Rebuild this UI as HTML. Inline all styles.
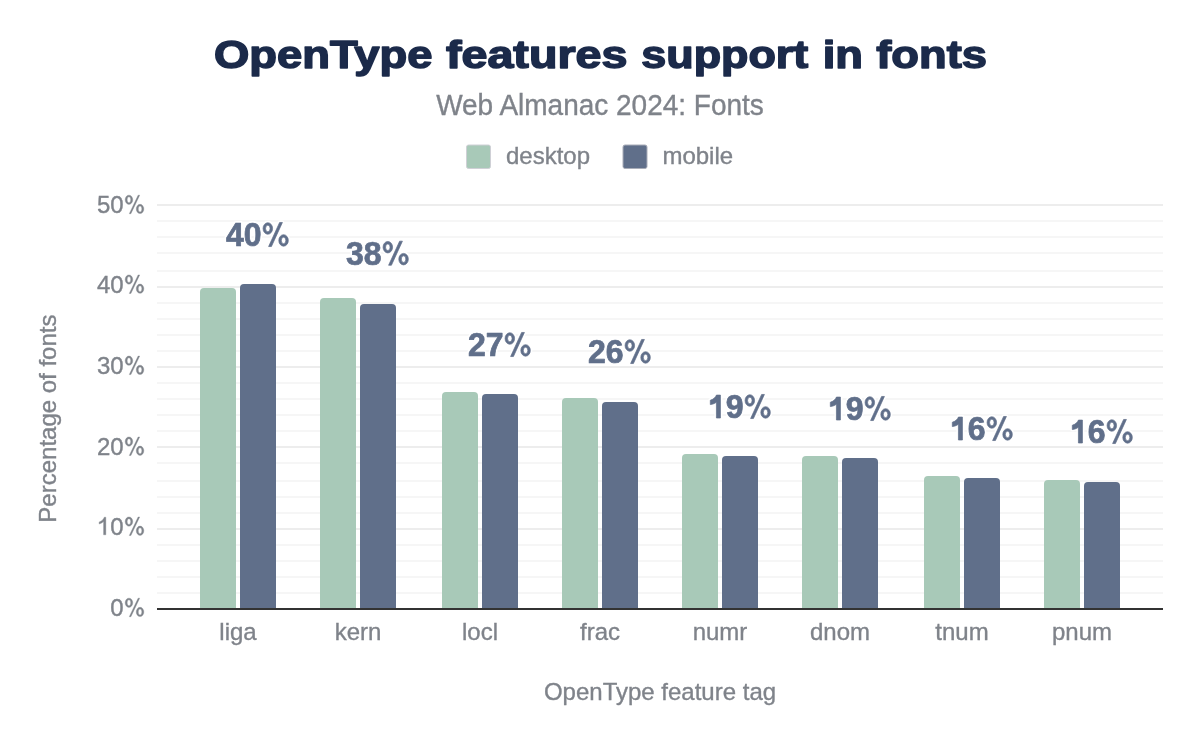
<!DOCTYPE html>
<html><head><meta charset="utf-8"><title>OpenType features support in fonts</title>
<style>
html,body{margin:0;padding:0;background:#fff;}
body{width:1200px;height:742px;overflow:hidden;}
svg{display:block;will-change:transform;font-family:"Liberation Sans",sans-serif;}
</style></head><body>
<svg width="1200" height="742" viewBox="0 0 1200 742">
<rect width="1200" height="742" fill="#fff"/>
<g font-size="39" font-weight="bold" fill="#1b2a4a" stroke="#1b2a4a" stroke-width="1.5" stroke-linejoin="round"><text x="213.92" y="67.8" textLength="218.56" lengthAdjust="spacingAndGlyphs">OpenType</text><text x="445.95" y="67.8" textLength="181.51" lengthAdjust="spacingAndGlyphs">features</text><text x="641.27" y="67.8" textLength="167.03" lengthAdjust="spacingAndGlyphs">support</text><text x="822.79" y="67.8" textLength="40.27" lengthAdjust="spacingAndGlyphs">in</text><text x="876.23" y="67.8" textLength="110.68" lengthAdjust="spacingAndGlyphs">fonts</text></g>
<g fill="#7f838a" stroke="#7f838a" stroke-width="0.35">
<text transform="translate(600,114.8) scale(1,1.03)" text-anchor="middle" font-size="28">Web Almanac 2024: Fonts</text>
<text transform="translate(506,164) scale(1,1.03)" font-size="24">desktop</text>
<text transform="translate(662.4,164) scale(1,1.03)" font-size="24">mobile</text>
<g transform="translate(110.312,616) scale(1,1.03)" font-size="24"><text x="0.000" y="0">0</text><path transform="translate(13.348,0)" fill-rule="evenodd" d="M1.51,-12.83a3.78,4.50 0 1,0 7.56,0a3.78,4.50 0 1,0 -7.56,0ZM3.51,-12.83a1.78,2.85 0 1,0 3.56,0a1.78,2.85 0 1,0 -3.56,0ZM12.61,-3.93a3.78,4.50 0 1,0 7.56,0a3.78,4.50 0 1,0 -7.56,0ZM14.61,-3.93a1.78,2.85 0 1,0 3.56,0a1.78,2.85 0 1,0 -3.56,0ZM14.44,-17.3H16.04L7.24,0.7H5.64Z"/></g><g transform="translate(96.965,534.8) scale(1,1.03)" font-size="24"><path transform="translate(0.000,0)" d="M6.62,0H8.87V-17.1H7.3C6.6,-15.0 4.6,-13.1 2.2,-12.45V-10.45C4.0,-10.9 5.6,-11.8 6.62,-12.9Z"/><text x="13.348" y="0">0</text><path transform="translate(26.695,0)" fill-rule="evenodd" d="M1.51,-12.83a3.78,4.50 0 1,0 7.56,0a3.78,4.50 0 1,0 -7.56,0ZM3.51,-12.83a1.78,2.85 0 1,0 3.56,0a1.78,2.85 0 1,0 -3.56,0ZM12.61,-3.93a3.78,4.50 0 1,0 7.56,0a3.78,4.50 0 1,0 -7.56,0ZM14.61,-3.93a1.78,2.85 0 1,0 3.56,0a1.78,2.85 0 1,0 -3.56,0ZM14.44,-17.3H16.04L7.24,0.7H5.64Z"/></g><g transform="translate(96.965,454.8) scale(1,1.03)" font-size="24"><text x="0.000" y="0">2</text><text x="13.348" y="0">0</text><path transform="translate(26.695,0)" fill-rule="evenodd" d="M1.51,-12.83a3.78,4.50 0 1,0 7.56,0a3.78,4.50 0 1,0 -7.56,0ZM3.51,-12.83a1.78,2.85 0 1,0 3.56,0a1.78,2.85 0 1,0 -3.56,0ZM12.61,-3.93a3.78,4.50 0 1,0 7.56,0a3.78,4.50 0 1,0 -7.56,0ZM14.61,-3.93a1.78,2.85 0 1,0 3.56,0a1.78,2.85 0 1,0 -3.56,0ZM14.44,-17.3H16.04L7.24,0.7H5.64Z"/></g><g transform="translate(96.965,373.9) scale(1,1.03)" font-size="24"><text x="0.000" y="0">3</text><text x="13.348" y="0">0</text><path transform="translate(26.695,0)" fill-rule="evenodd" d="M1.51,-12.83a3.78,4.50 0 1,0 7.56,0a3.78,4.50 0 1,0 -7.56,0ZM3.51,-12.83a1.78,2.85 0 1,0 3.56,0a1.78,2.85 0 1,0 -3.56,0ZM12.61,-3.93a3.78,4.50 0 1,0 7.56,0a3.78,4.50 0 1,0 -7.56,0ZM14.61,-3.93a1.78,2.85 0 1,0 3.56,0a1.78,2.85 0 1,0 -3.56,0ZM14.44,-17.3H16.04L7.24,0.7H5.64Z"/></g><g transform="translate(96.965,292.75) scale(1,1.03)" font-size="24"><text x="0.000" y="0">4</text><text x="13.348" y="0">0</text><path transform="translate(26.695,0)" fill-rule="evenodd" d="M1.51,-12.83a3.78,4.50 0 1,0 7.56,0a3.78,4.50 0 1,0 -7.56,0ZM3.51,-12.83a1.78,2.85 0 1,0 3.56,0a1.78,2.85 0 1,0 -3.56,0ZM12.61,-3.93a3.78,4.50 0 1,0 7.56,0a3.78,4.50 0 1,0 -7.56,0ZM14.61,-3.93a1.78,2.85 0 1,0 3.56,0a1.78,2.85 0 1,0 -3.56,0ZM14.44,-17.3H16.04L7.24,0.7H5.64Z"/></g><g transform="translate(96.965,213) scale(1,1.03)" font-size="24"><text x="0.000" y="0">5</text><text x="13.348" y="0">0</text><path transform="translate(26.695,0)" fill-rule="evenodd" d="M1.51,-12.83a3.78,4.50 0 1,0 7.56,0a3.78,4.50 0 1,0 -7.56,0ZM3.51,-12.83a1.78,2.85 0 1,0 3.56,0a1.78,2.85 0 1,0 -3.56,0ZM12.61,-3.93a3.78,4.50 0 1,0 7.56,0a3.78,4.50 0 1,0 -7.56,0ZM14.61,-3.93a1.78,2.85 0 1,0 3.56,0a1.78,2.85 0 1,0 -3.56,0ZM14.44,-17.3H16.04L7.24,0.7H5.64Z"/></g>
<text transform="translate(238,640) scale(1,1.03)" text-anchor="middle" font-size="24">liga</text><text transform="translate(358,640) scale(1,1.03)" text-anchor="middle" font-size="24">kern</text><text transform="translate(480,640) scale(1,1.03)" text-anchor="middle" font-size="24">locl</text><text transform="translate(600,640) scale(1,1.03)" text-anchor="middle" font-size="24">frac</text><text transform="translate(720,640) scale(1,1.03)" text-anchor="middle" font-size="24">numr</text><text transform="translate(840,640) scale(1,1.03)" text-anchor="middle" font-size="24">dnom</text><text transform="translate(962,640) scale(1,1.03)" text-anchor="middle" font-size="24">tnum</text><text transform="translate(1082,640) scale(1,1.03)" text-anchor="middle" font-size="24">pnum</text>
<text transform="translate(660,700) scale(1,1.03)" text-anchor="middle" font-size="24">OpenType feature tag</text>
<text transform="translate(56,418.6) rotate(-90) scale(1,1.03)" text-anchor="middle" font-size="24">Percentage of fonts</text>
</g>
<rect x="466.5" y="145" width="24" height="23.5" rx="2" fill="#a8c9b8" stroke="#cfd0d6" stroke-width="1"/>
<rect x="623" y="145" width="24" height="23.5" rx="2" fill="#606f8a" stroke="#a9adb8" stroke-width="1"/>
<g><rect x="157" y="592" width="1006" height="2" fill="#f6f6f6"/><rect x="157" y="576" width="1006" height="2" fill="#f6f6f6"/><rect x="157" y="560" width="1006" height="2" fill="#f6f6f6"/><rect x="157" y="544" width="1006" height="2" fill="#f6f6f6"/><rect x="157" y="528" width="1006" height="2" fill="#ededed"/><rect x="157" y="512" width="1006" height="2" fill="#f6f6f6"/><rect x="157" y="496" width="1006" height="2" fill="#f6f6f6"/><rect x="157" y="480" width="1006" height="2" fill="#f6f6f6"/><rect x="157" y="462" width="1006" height="2" fill="#f6f6f6"/><rect x="157" y="446" width="1006" height="2" fill="#ededed"/><rect x="157" y="430" width="1006" height="2" fill="#f6f6f6"/><rect x="157" y="414" width="1006" height="2" fill="#f6f6f6"/><rect x="157" y="398" width="1006" height="2" fill="#f6f6f6"/><rect x="157" y="382" width="1006" height="2" fill="#f6f6f6"/><rect x="157" y="366" width="1006" height="2" fill="#ededed"/><rect x="157" y="350" width="1006" height="2" fill="#f6f6f6"/><rect x="157" y="334" width="1006" height="2" fill="#f6f6f6"/><rect x="157" y="318" width="1006" height="2" fill="#f6f6f6"/><rect x="157" y="302" width="1006" height="2" fill="#f6f6f6"/><rect x="157" y="286" width="1006" height="2" fill="#ededed"/><rect x="157" y="270" width="1006" height="2" fill="#f6f6f6"/><rect x="157" y="252" width="1006" height="2" fill="#f6f6f6"/><rect x="157" y="236" width="1006" height="2" fill="#f6f6f6"/><rect x="157" y="220" width="1006" height="2" fill="#f6f6f6"/><rect x="157" y="204" width="1006" height="2" fill="#ededed"/></g>
<g><path d="M200,608V292Q200,288 204,288H232Q236,288 236,292V608Z" fill="#a8c9b8"/><path d="M240,608V288Q240,284 244,284H272Q276,284 276,288V608Z" fill="#606f8a"/><path d="M320,608V302Q320,298 324,298H352Q356,298 356,302V608Z" fill="#a8c9b8"/><path d="M360,608V308Q360,304 364,304H392Q396,304 396,308V608Z" fill="#606f8a"/><path d="M442,608V396Q442,392 446,392H474Q478,392 478,396V608Z" fill="#a8c9b8"/><path d="M482,608V398Q482,394 486,394H514Q518,394 518,398V608Z" fill="#606f8a"/><path d="M562,608V402Q562,398 566,398H594Q598,398 598,402V608Z" fill="#a8c9b8"/><path d="M602,608V406Q602,402 606,402H634Q638,402 638,406V608Z" fill="#606f8a"/><path d="M682,608V458Q682,454 686,454H714Q718,454 718,458V608Z" fill="#a8c9b8"/><path d="M722,608V460Q722,456 726,456H754Q758,456 758,460V608Z" fill="#606f8a"/><path d="M802,608V460Q802,456 806,456H834Q838,456 838,460V608Z" fill="#a8c9b8"/><path d="M842,608V462Q842,458 846,458H874Q878,458 878,462V608Z" fill="#606f8a"/><path d="M924,608V480Q924,476 928,476H956Q960,476 960,480V608Z" fill="#a8c9b8"/><path d="M964,608V482Q964,478 968,478H996Q1000,478 1000,482V608Z" fill="#606f8a"/><path d="M1044,608V484Q1044,480 1048,480H1076Q1080,480 1080,484V608Z" fill="#a8c9b8"/><path d="M1084,608V486Q1084,482 1088,482H1116Q1120,482 1120,486V608Z" fill="#606f8a"/></g>
<rect x="157" y="608" width="1006" height="2" fill="#333"/>
<g font-size="32" font-weight="bold" fill="none" stroke="#fff" stroke-width="4" stroke-linejoin="round"><g transform="translate(225.976,246) scale(1,1.03)"><text x="0" y="0">40</text><path transform="translate(35.594,0)" fill-rule="evenodd" d="M1.50,-17.00a4.75,5.57 0 1,0 9.50,0a4.75,5.57 0 1,0 -9.50,0ZM4.00,-17.00a2.25,3.17 0 1,0 4.50,0a2.25,3.17 0 1,0 -4.50,0ZM17.25,-5.40a4.75,5.57 0 1,0 9.50,0a4.75,5.57 0 1,0 -9.50,0ZM19.75,-5.40a2.25,3.17 0 1,0 4.50,0a2.25,3.17 0 1,0 -4.50,0ZM18.05,-22.85H20.85L9.85,0.52H7.05Z"/></g><g transform="translate(345.976,264.7) scale(1,1.03)"><text x="0" y="0">38</text><path transform="translate(35.594,0)" fill-rule="evenodd" d="M1.50,-17.00a4.75,5.57 0 1,0 9.50,0a4.75,5.57 0 1,0 -9.50,0ZM4.00,-17.00a2.25,3.17 0 1,0 4.50,0a2.25,3.17 0 1,0 -4.50,0ZM17.25,-5.40a4.75,5.57 0 1,0 9.50,0a4.75,5.57 0 1,0 -9.50,0ZM19.75,-5.40a2.25,3.17 0 1,0 4.50,0a2.25,3.17 0 1,0 -4.50,0ZM18.05,-22.85H20.85L9.85,0.52H7.05Z"/></g><g transform="translate(467.976,356) scale(1,1.03)"><text x="0" y="0">27</text><path transform="translate(35.594,0)" fill-rule="evenodd" d="M1.50,-17.00a4.75,5.57 0 1,0 9.50,0a4.75,5.57 0 1,0 -9.50,0ZM4.00,-17.00a2.25,3.17 0 1,0 4.50,0a2.25,3.17 0 1,0 -4.50,0ZM17.25,-5.40a4.75,5.57 0 1,0 9.50,0a4.75,5.57 0 1,0 -9.50,0ZM19.75,-5.40a2.25,3.17 0 1,0 4.50,0a2.25,3.17 0 1,0 -4.50,0ZM18.05,-22.85H20.85L9.85,0.52H7.05Z"/></g><g transform="translate(587.976,363) scale(1,1.03)"><text x="0" y="0">26</text><path transform="translate(35.594,0)" fill-rule="evenodd" d="M1.50,-17.00a4.75,5.57 0 1,0 9.50,0a4.75,5.57 0 1,0 -9.50,0ZM4.00,-17.00a2.25,3.17 0 1,0 4.50,0a2.25,3.17 0 1,0 -4.50,0ZM17.25,-5.40a4.75,5.57 0 1,0 9.50,0a4.75,5.57 0 1,0 -9.50,0ZM19.75,-5.40a2.25,3.17 0 1,0 4.50,0a2.25,3.17 0 1,0 -4.50,0ZM18.05,-22.85H20.85L9.85,0.52H7.05Z"/></g><g transform="translate(707.976,418) scale(1,1.03)"><path d="M8.45,0H12.45V-22.25H8.45C7.8,-20.3 5.6,-18.1 2.35,-17.25V-13.05C4.8,-13.3 7.0,-14.2 8.45,-15.4Z"/><text x="17.797" y="0">9</text><path transform="translate(35.594,0)" fill-rule="evenodd" d="M1.50,-17.00a4.75,5.57 0 1,0 9.50,0a4.75,5.57 0 1,0 -9.50,0ZM4.00,-17.00a2.25,3.17 0 1,0 4.50,0a2.25,3.17 0 1,0 -4.50,0ZM17.25,-5.40a4.75,5.57 0 1,0 9.50,0a4.75,5.57 0 1,0 -9.50,0ZM19.75,-5.40a2.25,3.17 0 1,0 4.50,0a2.25,3.17 0 1,0 -4.50,0ZM18.05,-22.85H20.85L9.85,0.52H7.05Z"/></g><g transform="translate(827.976,420) scale(1,1.03)"><path d="M8.45,0H12.45V-22.25H8.45C7.8,-20.3 5.6,-18.1 2.35,-17.25V-13.05C4.8,-13.3 7.0,-14.2 8.45,-15.4Z"/><text x="17.797" y="0">9</text><path transform="translate(35.594,0)" fill-rule="evenodd" d="M1.50,-17.00a4.75,5.57 0 1,0 9.50,0a4.75,5.57 0 1,0 -9.50,0ZM4.00,-17.00a2.25,3.17 0 1,0 4.50,0a2.25,3.17 0 1,0 -4.50,0ZM17.25,-5.40a4.75,5.57 0 1,0 9.50,0a4.75,5.57 0 1,0 -9.50,0ZM19.75,-5.40a2.25,3.17 0 1,0 4.50,0a2.25,3.17 0 1,0 -4.50,0ZM18.05,-22.85H20.85L9.85,0.52H7.05Z"/></g><g transform="translate(949.976,440) scale(1,1.03)"><path d="M8.45,0H12.45V-22.25H8.45C7.8,-20.3 5.6,-18.1 2.35,-17.25V-13.05C4.8,-13.3 7.0,-14.2 8.45,-15.4Z"/><text x="17.797" y="0">6</text><path transform="translate(35.594,0)" fill-rule="evenodd" d="M1.50,-17.00a4.75,5.57 0 1,0 9.50,0a4.75,5.57 0 1,0 -9.50,0ZM4.00,-17.00a2.25,3.17 0 1,0 4.50,0a2.25,3.17 0 1,0 -4.50,0ZM17.25,-5.40a4.75,5.57 0 1,0 9.50,0a4.75,5.57 0 1,0 -9.50,0ZM19.75,-5.40a2.25,3.17 0 1,0 4.50,0a2.25,3.17 0 1,0 -4.50,0ZM18.05,-22.85H20.85L9.85,0.52H7.05Z"/></g><g transform="translate(1069.976,443) scale(1,1.03)"><path d="M8.45,0H12.45V-22.25H8.45C7.8,-20.3 5.6,-18.1 2.35,-17.25V-13.05C4.8,-13.3 7.0,-14.2 8.45,-15.4Z"/><text x="17.797" y="0">6</text><path transform="translate(35.594,0)" fill-rule="evenodd" d="M1.50,-17.00a4.75,5.57 0 1,0 9.50,0a4.75,5.57 0 1,0 -9.50,0ZM4.00,-17.00a2.25,3.17 0 1,0 4.50,0a2.25,3.17 0 1,0 -4.50,0ZM17.25,-5.40a4.75,5.57 0 1,0 9.50,0a4.75,5.57 0 1,0 -9.50,0ZM19.75,-5.40a2.25,3.17 0 1,0 4.50,0a2.25,3.17 0 1,0 -4.50,0ZM18.05,-22.85H20.85L9.85,0.52H7.05Z"/></g></g>
<g font-size="32" font-weight="bold" fill="#606f8a" stroke="#606f8a" stroke-width="0.7" stroke-linejoin="round"><g transform="translate(225.976,246) scale(1,1.03)"><text x="0" y="0">40</text><path transform="translate(35.594,0)" fill-rule="evenodd" d="M1.50,-17.00a4.75,5.57 0 1,0 9.50,0a4.75,5.57 0 1,0 -9.50,0ZM4.00,-17.00a2.25,3.17 0 1,0 4.50,0a2.25,3.17 0 1,0 -4.50,0ZM17.25,-5.40a4.75,5.57 0 1,0 9.50,0a4.75,5.57 0 1,0 -9.50,0ZM19.75,-5.40a2.25,3.17 0 1,0 4.50,0a2.25,3.17 0 1,0 -4.50,0ZM18.05,-22.85H20.85L9.85,0.52H7.05Z"/></g><g transform="translate(345.976,264.7) scale(1,1.03)"><text x="0" y="0">38</text><path transform="translate(35.594,0)" fill-rule="evenodd" d="M1.50,-17.00a4.75,5.57 0 1,0 9.50,0a4.75,5.57 0 1,0 -9.50,0ZM4.00,-17.00a2.25,3.17 0 1,0 4.50,0a2.25,3.17 0 1,0 -4.50,0ZM17.25,-5.40a4.75,5.57 0 1,0 9.50,0a4.75,5.57 0 1,0 -9.50,0ZM19.75,-5.40a2.25,3.17 0 1,0 4.50,0a2.25,3.17 0 1,0 -4.50,0ZM18.05,-22.85H20.85L9.85,0.52H7.05Z"/></g><g transform="translate(467.976,356) scale(1,1.03)"><text x="0" y="0">27</text><path transform="translate(35.594,0)" fill-rule="evenodd" d="M1.50,-17.00a4.75,5.57 0 1,0 9.50,0a4.75,5.57 0 1,0 -9.50,0ZM4.00,-17.00a2.25,3.17 0 1,0 4.50,0a2.25,3.17 0 1,0 -4.50,0ZM17.25,-5.40a4.75,5.57 0 1,0 9.50,0a4.75,5.57 0 1,0 -9.50,0ZM19.75,-5.40a2.25,3.17 0 1,0 4.50,0a2.25,3.17 0 1,0 -4.50,0ZM18.05,-22.85H20.85L9.85,0.52H7.05Z"/></g><g transform="translate(587.976,363) scale(1,1.03)"><text x="0" y="0">26</text><path transform="translate(35.594,0)" fill-rule="evenodd" d="M1.50,-17.00a4.75,5.57 0 1,0 9.50,0a4.75,5.57 0 1,0 -9.50,0ZM4.00,-17.00a2.25,3.17 0 1,0 4.50,0a2.25,3.17 0 1,0 -4.50,0ZM17.25,-5.40a4.75,5.57 0 1,0 9.50,0a4.75,5.57 0 1,0 -9.50,0ZM19.75,-5.40a2.25,3.17 0 1,0 4.50,0a2.25,3.17 0 1,0 -4.50,0ZM18.05,-22.85H20.85L9.85,0.52H7.05Z"/></g><g transform="translate(707.976,418) scale(1,1.03)"><path d="M8.45,0H12.45V-22.25H8.45C7.8,-20.3 5.6,-18.1 2.35,-17.25V-13.05C4.8,-13.3 7.0,-14.2 8.45,-15.4Z"/><text x="17.797" y="0">9</text><path transform="translate(35.594,0)" fill-rule="evenodd" d="M1.50,-17.00a4.75,5.57 0 1,0 9.50,0a4.75,5.57 0 1,0 -9.50,0ZM4.00,-17.00a2.25,3.17 0 1,0 4.50,0a2.25,3.17 0 1,0 -4.50,0ZM17.25,-5.40a4.75,5.57 0 1,0 9.50,0a4.75,5.57 0 1,0 -9.50,0ZM19.75,-5.40a2.25,3.17 0 1,0 4.50,0a2.25,3.17 0 1,0 -4.50,0ZM18.05,-22.85H20.85L9.85,0.52H7.05Z"/></g><g transform="translate(827.976,420) scale(1,1.03)"><path d="M8.45,0H12.45V-22.25H8.45C7.8,-20.3 5.6,-18.1 2.35,-17.25V-13.05C4.8,-13.3 7.0,-14.2 8.45,-15.4Z"/><text x="17.797" y="0">9</text><path transform="translate(35.594,0)" fill-rule="evenodd" d="M1.50,-17.00a4.75,5.57 0 1,0 9.50,0a4.75,5.57 0 1,0 -9.50,0ZM4.00,-17.00a2.25,3.17 0 1,0 4.50,0a2.25,3.17 0 1,0 -4.50,0ZM17.25,-5.40a4.75,5.57 0 1,0 9.50,0a4.75,5.57 0 1,0 -9.50,0ZM19.75,-5.40a2.25,3.17 0 1,0 4.50,0a2.25,3.17 0 1,0 -4.50,0ZM18.05,-22.85H20.85L9.85,0.52H7.05Z"/></g><g transform="translate(949.976,440) scale(1,1.03)"><path d="M8.45,0H12.45V-22.25H8.45C7.8,-20.3 5.6,-18.1 2.35,-17.25V-13.05C4.8,-13.3 7.0,-14.2 8.45,-15.4Z"/><text x="17.797" y="0">6</text><path transform="translate(35.594,0)" fill-rule="evenodd" d="M1.50,-17.00a4.75,5.57 0 1,0 9.50,0a4.75,5.57 0 1,0 -9.50,0ZM4.00,-17.00a2.25,3.17 0 1,0 4.50,0a2.25,3.17 0 1,0 -4.50,0ZM17.25,-5.40a4.75,5.57 0 1,0 9.50,0a4.75,5.57 0 1,0 -9.50,0ZM19.75,-5.40a2.25,3.17 0 1,0 4.50,0a2.25,3.17 0 1,0 -4.50,0ZM18.05,-22.85H20.85L9.85,0.52H7.05Z"/></g><g transform="translate(1069.976,443) scale(1,1.03)"><path d="M8.45,0H12.45V-22.25H8.45C7.8,-20.3 5.6,-18.1 2.35,-17.25V-13.05C4.8,-13.3 7.0,-14.2 8.45,-15.4Z"/><text x="17.797" y="0">6</text><path transform="translate(35.594,0)" fill-rule="evenodd" d="M1.50,-17.00a4.75,5.57 0 1,0 9.50,0a4.75,5.57 0 1,0 -9.50,0ZM4.00,-17.00a2.25,3.17 0 1,0 4.50,0a2.25,3.17 0 1,0 -4.50,0ZM17.25,-5.40a4.75,5.57 0 1,0 9.50,0a4.75,5.57 0 1,0 -9.50,0ZM19.75,-5.40a2.25,3.17 0 1,0 4.50,0a2.25,3.17 0 1,0 -4.50,0ZM18.05,-22.85H20.85L9.85,0.52H7.05Z"/></g></g>
</svg>
</body></html>
